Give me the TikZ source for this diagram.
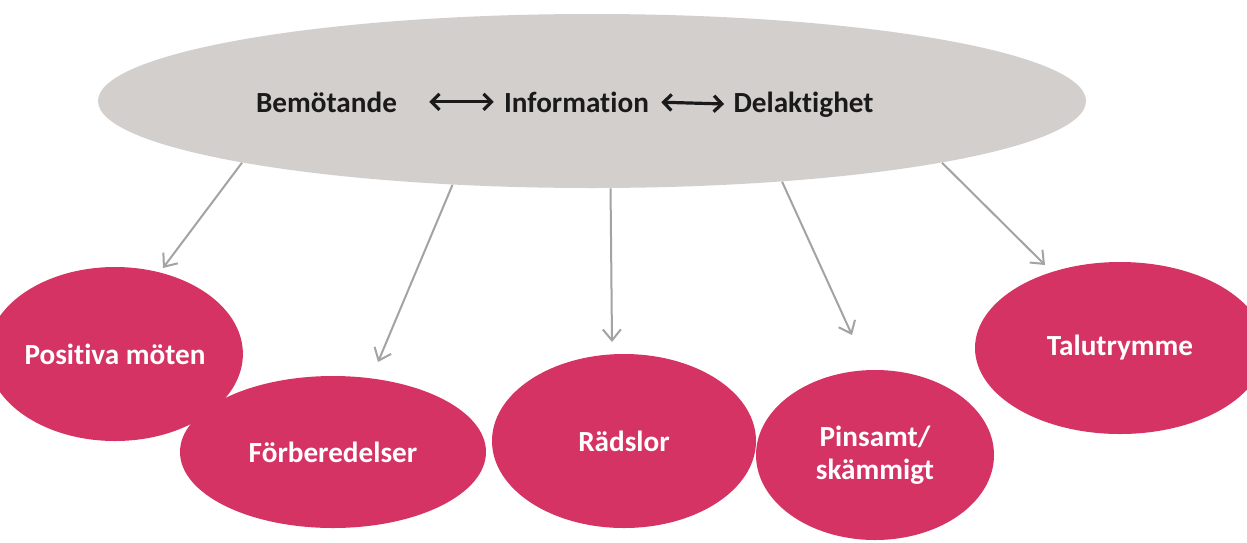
\documentclass[tikz,border=0pt]{standalone}
\usepackage{fontspec}
\setmainfont[Ligatures=NoCommon]{Carlito}
\usetikzlibrary{arrows.meta,shapes.geometric}
\definecolor{capsule}{HTML}{D3CFCC}
\definecolor{rose}{HTML}{D53363}
\definecolor{connector}{HTML}{A3A3A3}
\definecolor{ink}{HTML}{1A1A1A}
\begin{document}
\begin{tikzpicture}[x=0.5pt,y=-0.5pt,
  hub/.style={ellipse, fill=capsule, inner sep=0pt},
  leaf/.style={ellipse, fill=rose, inner sep=0pt, text=white, align=center,
    font=\fontsize{14.6}{16.5}\selectfont\bfseries},
  word/.style={inner sep=0pt, anchor=base, text=ink, font=\fontsize{14.6}{16.5}\selectfont\bfseries},
  link/.style={draw=ink, line width=1.6pt, {Straight Barb[length=4pt,width=8pt]}-{Straight Barb[length=4pt,width=8pt]}},
  feed/.style={draw=connector, line width=1pt, -{Straight Barb[length=5.5pt,width=9pt]}}]
  \useasboundingbox (0,0) rectangle (1247,542);
  \fill[white] (0,0) rectangle (1247,542);

  % central theme ellipse
  \node[hub, minimum width=494pt, minimum height=87pt] (top) at (592,101) {};
  \node[word] (bem)  at (326.5,112) {Bemötande};
  \node[word] (info) at (576.5,112) {Information};
  \node[word] (del)  at (803.5,112) {Delaktighet};
  \draw[link, shorten <=16pt, shorten >=5pt] (bem.east) -- (info.west);
  \draw[link, shorten <=6pt, shorten >=4.5pt] (info.east) -- (del.west);

  % outcome ellipses
  \node[leaf, minimum width=105pt, minimum height=87pt] (pos) at (115,354) {Positiva möten};
  \node[leaf, minimum width=153pt, minimum height=76pt] (forb) at (333,452) {Förberedelser};
  \node[leaf, minimum width=132pt, minimum height=87pt] (rad) at (624,441) {Rädslor};
  \node[leaf, minimum width=119pt, minimum height=85pt] (pin) at (875,455) {Pinsamt/\\skämmigt};
  \node[leaf, minimum width=145pt, minimum height=86pt] (tal) at (1120,348) {Talutrymme};

  % arrow tips stop short of the outcome ellipses
  \coordinate (t1) at (163,268);
  \coordinate (t2) at (378,362);
  \coordinate (t3) at (612,342);
  \coordinate (t4) at (852,335);
  \coordinate (t5) at (1045,265);

  \draw[feed] (top.190.6) -- (t1);
  \draw[feed] (top.211.5) -- (t2);
  \draw[feed] (top.282.7) -- (t3);
  \draw[feed] (top.337.4) -- (t4);
  \draw[feed] (top.350.9) -- (t5);
\end{tikzpicture}
\end{document}
